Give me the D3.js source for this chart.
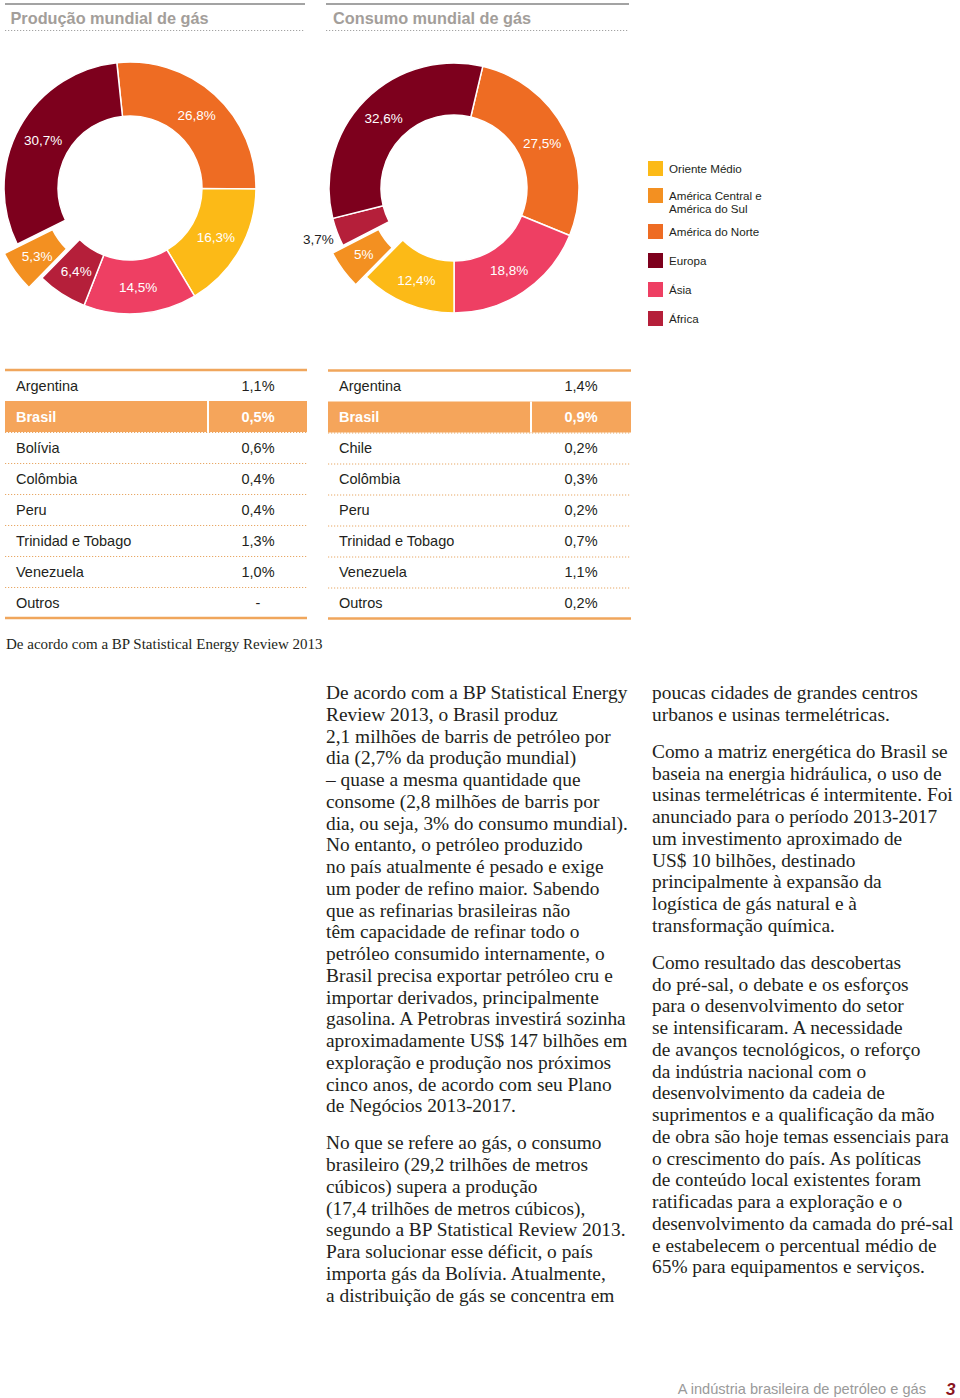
<!DOCTYPE html>
<html><head><meta charset="utf-8">
<script src="https://cdn.jsdelivr.net/npm/d3@7"></script>
<style>body{margin:0;background:#fff}</style>
</head><body>
<script>
// ---------------- DATA ----------------
const regions = ["Oriente Médio", "América Central e América do Sul", "América do Norte", "Europa", "Ásia", "África"];
const legendLabels = [["Oriente Médio"], ["América Central e", "América do Sul"], ["América do Norte"], ["Europa"], ["Ásia"], ["África"]];
const regionColors = ["#FCBA17", "#F39021", "#EE6C23", "#7D001D", "#EE3F63", "#B51F3A"];

const prodRegions = ["América do Norte", "Oriente Médio", "Ásia", "África", "América Central e América do Sul", "Europa"];
const prodValues = [26.8, 16.3, 14.5, 6.4, 5.3, 30.7];

const consRegions = ["América do Norte", "Ásia", "Oriente Médio", "América Central e América do Sul", "África", "Europa"];
const consValues = [27.5, 18.8, 12.4, 5.0, 3.7, 32.6];

const prodCountries = ["Argentina", "Brasil", "Bolívia", "Colômbia", "Peru", "Trinidad e Tobago", "Venezuela", "Outros"];
const prodShares = ["1,1%", "0,5%", "0,6%", "0,4%", "0,4%", "1,3%", "1,0%", "-"];
const consCountries = ["Argentina", "Brasil", "Chile", "Colômbia", "Peru", "Trinidad e Tobago", "Venezuela", "Outros"];
const consShares = ["1,4%", "0,9%", "0,2%", "0,3%", "0,2%", "0,7%", "1,1%", "0,2%"];

const titles = ["Produção mundial de gás", "Consumo mundial de gás"];
const sourceNote = "De acordo com a BP Statistical Energy Review 2013";
const footerText = "A indústria brasileira de petróleo e gás";
const pageNumber = "3";

const column1 = [
 ["De acordo com a BP Statistical Energy","Review 2013, o Brasil produz","2,1 milhões de barris de petróleo por","dia (2,7% da produção mundial)","– quase a mesma quantidade que","consome (2,8 milhões de barris por","dia, ou seja, 3% do consumo mundial).","No entanto, o petróleo produzido","no país atualmente é pesado e exige","um poder de refino maior. Sabendo","que as refinarias brasileiras não","têm capacidade de refinar todo o","petróleo consumido internamente, o","Brasil precisa exportar petróleo cru e","importar derivados, principalmente","gasolina. A Petrobras investirá sozinha","aproximadamente US$ 147 bilhões em","exploração e produção nos próximos","cinco anos, de acordo com seu Plano","de Negócios 2013-2017."],
 ["No que se refere ao gás, o consumo","brasileiro (29,2 trilhões de metros","cúbicos) supera a produção","(17,4 trilhões de metros cúbicos),","segundo a BP Statistical Review 2013.","Para solucionar esse déficit, o país","importa gás da Bolívia. Atualmente,","a distribuição de gás se concentra em"]
];
const column2 = [
 ["poucas cidades de grandes centros","urbanos e usinas termelétricas."],
 ["Como a matriz energética do Brasil se","baseia na energia hidráulica, o uso de","usinas termelétricas é intermitente. Foi","anunciado para o período 2013-2017","um investimento aproximado de","US$ 10 bilhões, destinado","principalmente à expansão da","logística de gás natural e à","transformação química."],
 ["Como resultado das descobertas","do pré-sal, o debate e os esforços","para o desenvolvimento do setor","se intensificaram. A necessidade","de avanços tecnológicos, o reforço","da indústria nacional com o","desenvolvimento da cadeia de","suprimentos e a qualificação da mão","de obra são hoje temas essenciais para","o crescimento do país. As políticas","de conteúdo local existentes foram","ratificadas para a exploração e o","desenvolvimento da camada do pré-sal","e estabelecem o percentual médio de","65% para equipamentos e serviços."]
];

// ---------------- DRAW ----------------
const W = 960, H = 1398;
const svg = d3.select("body").append("svg").attr("width", W).attr("height", H)
  .style("font-family", "'Liberation Sans', Arial, sans-serif");

const color = d3.scaleOrdinal().domain(regions).range(regionColors);
const fmt = v => (Number.isInteger(v) ? String(v) : v.toFixed(1).replace(".", ",")) + "%";

// headers
function header(x0, x1, tx, title) {
  const g = svg.append("g");
  g.append("line").attr("x1", x0).attr("x2", x1).attr("y1", 4).attr("y2", 4)
    .attr("stroke", "#a3a3a3").attr("stroke-width", 2);
  g.append("text").attr("x", tx).attr("y", 24).text(title)
    .attr("font-size", 16.3).attr("font-weight", "bold").attr("fill", "#a39e9a");
  g.append("line").attr("x1", x0).attr("x2", x1).attr("y1", 30.5).attr("y2", 30.5)
    .attr("stroke", "#a3a3a3").attr("stroke-width", 1.2).attr("stroke-dasharray", "1.2,1.8");
}
header(5, 305, 10.5, titles[0]);
header(326, 629, 333, titles[1]);

// donuts
function donut(cx, cy, r0, r1, startDeg, names, values, explodeName, offset) {
  const st = startDeg * Math.PI / 180;
  const pie = d3.pie().sort(null).value(d => d.v).startAngle(st).endAngle(st + 2 * Math.PI);
  const arcs = pie(names.map((n, i) => ({ n, v: values[i] })));
  const arc = d3.arc().innerRadius(r0).outerRadius(r1);
  const labelArc = d3.arc().innerRadius((r0 + r1) / 2).outerRadius((r0 + r1) / 2);
  const g = svg.append("g").attr("transform", `translate(${cx},${cy})`);
  const shift = d => {
    if (d.data.n !== explodeName) return [0, 0];
    const m = (d.startAngle + d.endAngle) / 2;
    return [Math.sin(m) * offset, -Math.cos(m) * offset];
  };
  g.selectAll("path").data(arcs).join("path")
    .attr("d", arc)
    .attr("transform", d => `translate(${shift(d)})`)
    .attr("fill", d => color(d.data.n))
    .attr("stroke", "#fff").attr("stroke-width", 1.5);
  g.selectAll("text").data(arcs).join("text")
    .attr("transform", d => {
      const s = shift(d);
      const small = d.data.v < 4.5;
      let p;
      if (small) {
        const m = (d.startAngle + d.endAngle) / 2, r = r1 + 20;
        p = [Math.sin(m) * r, -Math.cos(m) * r];
      } else p = labelArc.centroid(d);
      return `translate(${p[0] + s[0]},${p[1] + s[1] + 5})`;
    })
    .attr("text-anchor", "middle").attr("font-size", 13.5)
    .attr("fill", d => d.data.v < 4.5 ? "#222" : "#fff")
    .text(d => fmt(d.data.v));
}
donut(130, 188, 72, 126, -6, prodRegions, prodValues, "América Central e América do Sul", 16);
donut(454, 188, 73, 125, 13.3, consRegions, consValues, "América Central e América do Sul", 13);

// legend
const legendTops = [161, 188, 224, 253, 282, 311];
const lg = svg.append("g");
regions.forEach((r, i) => {
  const y = legendTops[i];
  lg.append("rect").attr("x", 648).attr("y", y).attr("width", 15).attr("height", 15).attr("fill", color(r));
  const t = lg.append("text").attr("x", 669).attr("y", y + 11.5).attr("font-size", 11.6).attr("fill", "#231f20");
  legendLabels[i].forEach((l, j) => t.append("tspan").attr("x", 669).attr("dy", j ? 13.5 : 0).text(l));
});

// tables
function table(x0, x1, sepX, textX, valX, countries, shares, dy) {
  const y = d3.scaleBand().domain(countries).range([370 + dy, 618 + dy]);
  const g = svg.append("g");
  g.append("rect").attr("x", x0).attr("y", y("Brasil")).attr("width", x1 - x0).attr("height", y.bandwidth())
    .attr("fill", "#F5A55B");
  g.append("line").attr("x1", sepX).attr("x2", sepX).attr("y1", y("Brasil")).attr("y2", y("Brasil") + y.bandwidth())
    .attr("stroke", "#fff").attr("stroke-width", 2);
  countries.forEach((c, i) => {
    if (i >= 2) {
      const yy = y(c) + 0.5;
      g.append("line").attr("x1", x0).attr("x2", x1).attr("y1", yy).attr("y2", yy)
        .attr("stroke", "#E8A866").attr("stroke-width", 1.2).attr("stroke-dasharray", "1.2,1.8");
    }
    const br = c === "Brasil";
    const cy = y(c) + y.bandwidth() / 2 + 5;
    g.append("text").attr("x", textX).attr("y", cy).text(c).attr("font-size", 14.5)
      .attr("fill", br ? "#fff" : "#231f20").attr("font-weight", br ? "bold" : "normal");
    g.append("text").attr("x", valX).attr("y", cy).text(shares[i]).attr("font-size", 14.5)
      .attr("text-anchor", "middle")
      .attr("fill", br ? "#fff" : "#231f20").attr("font-weight", br ? "bold" : "normal");
  });
  [y.range()[0], y.range()[1]].forEach(yy =>
    g.append("line").attr("x1", x0).attr("x2", x1).attr("y1", yy).attr("y2", yy)
      .attr("stroke", "#F0A65C").attr("stroke-width", 2.5));
}
table(5, 307, 208, 16, 258, prodCountries, prodShares, 0);
table(328, 631, 531, 339, 581, consCountries, consShares, 0.5);

// helper to fit serif font size
function fitSize(sample, targetW, family, base) {
  const t = svg.append("text").attr("font-family", family).attr("font-size", base).text(sample);
  const w = t.node().getComputedTextLength();
  t.remove();
  return base * targetW / w;
}
const serif = "'Liberation Serif', 'DejaVu Serif', serif";

// source note
const srcSize = fitSize(sourceNote, 317, serif, 14);
svg.append("text").attr("x", 6).attr("y", 648.5).attr("font-family", serif).attr("font-size", srcSize)
  .attr("fill", "#231f20").text(sourceNote);

// body text
const bodySize = fitSize("dia, ou seja, 3% do consumo mundial).", 302, serif, 18);
function column(x, paras) {
  let y = 699;
  const g = svg.append("g").attr("font-family", serif).attr("font-size", bodySize).attr("fill", "#231f20");
  paras.forEach((p, pi) => {
    if (pi) y += 15.25;
    p.forEach(line => {
      g.append("text").attr("x", x).attr("y", y).text(line);
      y += 21.75;
    });
  });
}
column(326, column1);
column(652, column2);

// footer
svg.append("text").attr("x", 926).attr("y", 1394).attr("text-anchor", "end").attr("font-size", 14.6)
  .attr("fill", "#9a9a9a").text(footerText);
svg.append("text").attr("x", 946).attr("y", 1395).attr("font-size", 17).attr("font-weight", "bold")
  .attr("font-style", "italic").attr("fill", "#8a1420").text(pageNumber);
</script>
</body></html>
